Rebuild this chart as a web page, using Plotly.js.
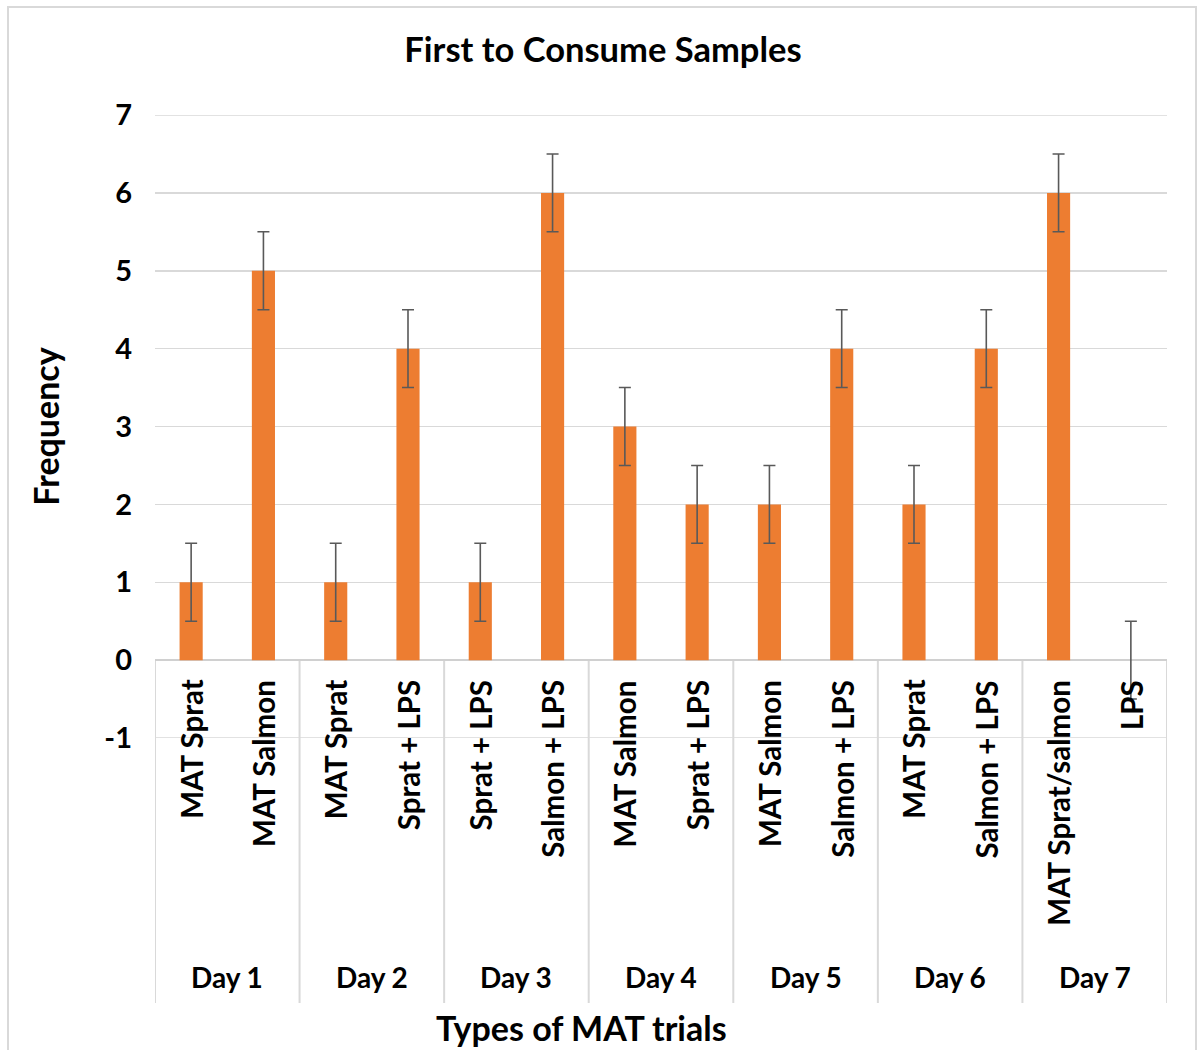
<!DOCTYPE html>
<html>
<head>
<meta charset="utf-8">
<script src="https://cdn.plot.ly/plotly-3.0.1.min.js"></script>
<style>
html,body{margin:0;padding:0;background:#fff;}
#chart{width:1199px;height:1050px;}
</style>
</head>
<body>
<div id="chart"></div>
<script>
// ---- data ----
const categories = ["MAT Sprat","MAT Salmon","MAT Sprat","Sprat + LPS","Sprat + LPS","Salmon + LPS","MAT Salmon","Sprat + LPS","MAT Salmon","Salmon + LPS","MAT Sprat","Salmon + LPS","MAT Sprat/salmon","LPS"];
const days = ["Day 1","Day 2","Day 3","Day 4","Day 5","Day 6","Day 7"];
const frequency = [1,5,1,4,1,6,3,2,2,4,2,4,6,0];
const errorValues = [0.5,0.5,0.5,0.5,0.5,0.5,0.5,0.5,0.5,0.5,0.5,0.5,0.5,0.5];
const yTicks = [-1,0,1,2,3,4,5,6,7];
const yTickLabels = ["-1","0","1","2","3","4","5","6","7"];

const FONT = "Lato, 'Open Sans', sans-serif";
const xIdx = categories.map((_, i) => i);

const trace = {
  type: 'bar',
  x: xIdx,
  y: frequency,
  width: 0.32,
  marker: {color: '#ED7D31'},
  error_y: {type: 'data', array: errorValues, visible: true, color: '#595959', thickness: 1.6, width: 6},
  hoverinfo: 'skip'
};

const plotL = 155, plotR = 1167, plotT = 115, plotB = 738;
const W = 1199, H = 1050;
const pw = plotR - plotL, ph = plotB - plotT;
const px = v => (v - plotL) / pw;
const py = v => (plotB - v) / ph;

const annotations = [];
categories.forEach((c, i) => {
  annotations.push({
    x: i, y: 0, xref: 'x', yref: 'y', text: c, showarrow: false,
    textangle: -90, xanchor: 'center', yanchor: 'top', yshift: -18,
    font: {family: FONT, size: 29.5, color: '#000', weight: 700}
  });
});
days.forEach((d, g) => {
  annotations.push({
    x: 2 * g + 0.5, y: py(977), xref: 'x', yref: 'paper', text: d, showarrow: false,
    xanchor: 'center', yanchor: 'middle',
    font: {family: FONT, size: 28, color: '#000', weight: 700}
  });
});
annotations.push({
  x: px(581), y: py(1027), xref: 'paper', yref: 'paper', text: 'Types of MAT trials', showarrow: false,
  xanchor: 'center', yanchor: 'middle',
  font: {family: FONT, size: 34, color: '#000', weight: 700}
});

const shapes = [];
// edge gridlines (top and bottom of value range)
[yTicks[0], yTicks[yTicks.length - 1]].forEach(v => {
  shapes.push({
    type: 'line', xref: 'paper', yref: 'y', x0: 0, x1: 1, y0: v, y1: v, layer: 'below',
    line: {color: '#d9d9d9', width: 1.5}
  });
});
for (let g = 0; g <= days.length; g++) {
  shapes.push({
    type: 'line', xref: 'x', yref: 'paper', x0: 2 * g - 0.5, x1: 2 * g - 0.5,
    y0: py(661), y1: py(1003), line: {color: '#d9d9d9', width: 2}
  });
}
shapes.push({
  type: 'rect', xref: 'paper', yref: 'paper', x0: px(8), x1: px(1196), y0: py(7), y1: py(1060),
  line: {color: '#d9d9d9', width: 2}, fillcolor: 'rgba(0,0,0,0)'
});

const layout = {
  width: W, height: H,
  margin: {l: plotL, r: W - plotR, t: plotT, b: H - plotB, pad: 0},
  paper_bgcolor: '#fff', plot_bgcolor: '#fff',
  showlegend: false,
  title: {text: 'First to Consume Samples', x: px(603), xref: 'paper', xanchor: 'center', y: 1 - 50 / H, yanchor: 'middle',
          font: {family: FONT, size: 34.5, color: '#000', weight: 700}},
  xaxis: {range: [-0.5, 13.5], showticklabels: false, showgrid: false, zeroline: false, showline: false, ticks: '', fixedrange: true},
  yaxis: {range: [-1, 7], tickvals: yTicks, ticktext: yTickLabels, showgrid: true, gridcolor: '#d9d9d9', gridwidth: 1.5,
          zeroline: true, zerolinecolor: '#d0d0d0', zerolinewidth: 2, showline: false, ticks: '',
          ticklabelstandoff: 22,
          tickfont: {family: FONT, size: 29, color: '#000', weight: 700},
          title: {text: 'Frequency', standoff: 34, font: {family: FONT, size: 34, color: '#000', weight: 700}}},
  annotations: annotations,
  shapes: shapes,
  bargap: 0.68
};

Plotly.newPlot('chart', [trace], layout, {displayModeBar: false, staticPlot: true});
</script>
</body>
</html>
